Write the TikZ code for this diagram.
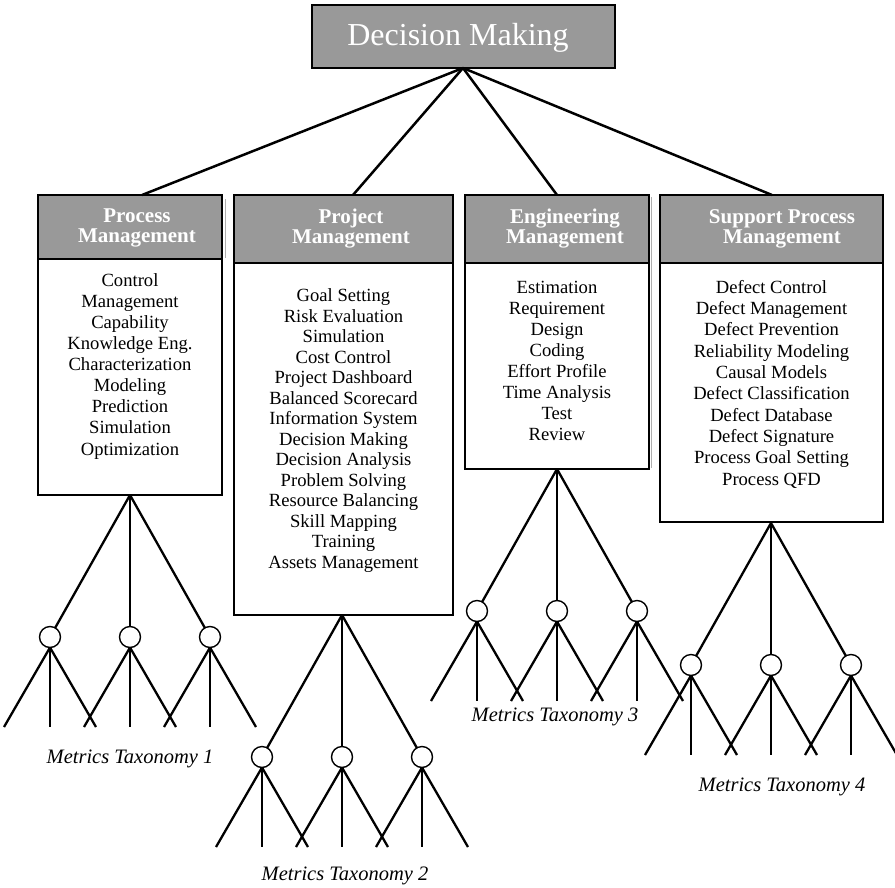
\documentclass[tikz,border=0pt]{standalone}
\usepackage{fontspec}
\setmainfont{Liberation Serif}
\definecolor{hdrgray}{RGB}{153,153,153}
\definecolor{shadowgray}{RGB}{175,175,175}
\tikzset{
  boxline/.style={draw=black, line width=1.5pt, inner sep=0pt, outer sep=0pt},
  bodybox/.style={boxline, fill=white, anchor=north west},
  hdrbox/.style={boxline, fill=hdrgray, anchor=north west},
  hdrtext/.style={text=white, font=\bfseries\fontsize{21}{20}\selectfont, align=center, inner sep=0pt},
  listtext/.style={align=center, inner sep=0pt, anchor=base},
  tiptext/.style={font=\itshape\fontsize{20.5}{24}\selectfont, inner sep=0pt, anchor=base},
  link/.style={line width=2.5pt},
  branch/.style={line width=2.3pt},
  stem/.style={line width=1.5pt},
  knot/.style={circle, draw, line width=1.4pt, fill=white, minimum size=21pt, inner sep=0pt, outer sep=0pt},
}
\begin{document}
\begin{tikzpicture}[x=1pt,y=-1pt]
\useasboundingbox (0,0) rectangle (895,887);

% root
\node[boxline, line width=2pt, fill=hdrgray, minimum width=303pt, minimum height=63pt] (dm) at (463.5,36.5) {};
\node[text=white, font=\fontsize{32}{36}\selectfont, inner sep=0pt, anchor=base] (dmtext) at (458,45) {Decision Making};

% category boxes: body first, header on top
\node[bodybox, minimum width=184pt, minimum height=300pt] (pm) at (38,195) {};
\node[hdrbox, minimum width=184pt, minimum height=64pt] (pmh) at (38,195) {};
\node[bodybox, minimum width=219pt, minimum height=420pt] (prj) at (234,195) {};
\node[hdrbox, minimum width=219pt, minimum height=68pt] (prjh) at (234,195) {};
\node[bodybox, minimum width=184pt, minimum height=274pt] (eng) at (465,195) {};
\node[hdrbox, minimum width=184pt, minimum height=68pt] (engh) at (465,195) {};
\node[bodybox, minimum width=223pt, minimum height=327pt] (sup) at (660,195) {};
\node[hdrbox, minimum width=223pt, minimum height=68pt] (suph) at (660,195) {};

% faint edge shadows
\draw[shadowgray, line width=0.9pt] (225.5,199) -- (225.5,258);
\draw[shadowgray, line width=0.9pt] (651.5,197) -- (651.5,468);

% header titles
\node[hdrtext] (pmt) at (137,228) {Process\\Management};
\node[hdrtext] (prjt) at (351,229) {Project\\Management};
\node[hdrtext] (engt) at (565,229) {Engineering\\Management};
\node[hdrtext] (supt) at (782,229) {Support Process\\Management};

% item lists (anchored at the baseline of the last line)
\node[listtext, font=\fontsize{18.6}{21.1}\selectfont] (pml) at (130,455) {Control\\Management\\Capability\\Knowledge Eng.\\Characterization\\Modeling\\Prediction\\Simulation\\Optimization};
\node[listtext, font=\fontsize{18.6}{20.5}\selectfont] (prjl) at (343.5,568) {Goal Setting\\Risk Evaluation\\Simulation\\Cost Control\\Project Dashboard\\Balanced Scorecard\\Information System\\Decision Making\\Decision Analysis\\Problem Solving\\Resource Balancing\\Skill Mapping\\Training\\Assets Management};
\node[listtext, font=\fontsize{18.6}{21}\selectfont] (engl) at (557,440) {Estimation\\Requirement\\Design\\Coding\\Effort Profile\\Time Analysis\\Test\\Review};
\node[listtext, font=\fontsize{18.6}{21.3}\selectfont] (supl) at (771.5,485) {Defect Control\\Defect Management\\Defect Prevention\\Reliability Modeling\\Causal Models\\Defect Classification\\Defect Database\\Defect Signature\\Process Goal Setting\\Process QFD};

% links from the root
\coordinate (pmin) at (142,195);
\coordinate (prjin) at (353,195);
\coordinate (engin) at (557,195);
\coordinate (supin) at (772,195);
\coordinate (root) at (463,68);
\foreach \c in {pmin,prjin,engin,supin} \draw[link] (root) -- (\c);

% metrics trees
\foreach \n/\ax/\ay in {1/130/495, 2/342/615, 3/557/469, 4/771/523} {
  \coordinate (apex\n) at (\ax,\ay);
  \foreach \k/\dx in {a/-80, b/0, c/80} {
    \node[knot] (t\n\k) at (\ax+\dx,\ay+142) {};
    \ifnum\dx=0
      \draw[stem] (apex\n) -- (t\n\k);
    \else
      \draw[branch] (apex\n) -- (t\n\k);
    \fi
    \coordinate (l\n\k1) at (\ax+\dx-46,\ay+232);
    \coordinate (l\n\k2) at (\ax+\dx,\ay+232);
    \coordinate (l\n\k3) at (\ax+\dx+46,\ay+232);
    \draw[branch] (t\n\k.south) -- (l\n\k1);
    \draw[stem] (t\n\k.south) -- (l\n\k2);
    \draw[branch] (t\n\k.south) -- (l\n\k3);
  }
}

% tree captions
\node[tiptext] (tx1) at (130,763) {Metrics Taxonomy 1};
\node[tiptext] (tx2) at (345,880) {Metrics Taxonomy 2};
\node[tiptext] (tx3) at (555,721) {Metrics Taxonomy 3};
\node[tiptext] (tx4) at (782,791) {Metrics Taxonomy 4};
\end{tikzpicture}
\end{document}
